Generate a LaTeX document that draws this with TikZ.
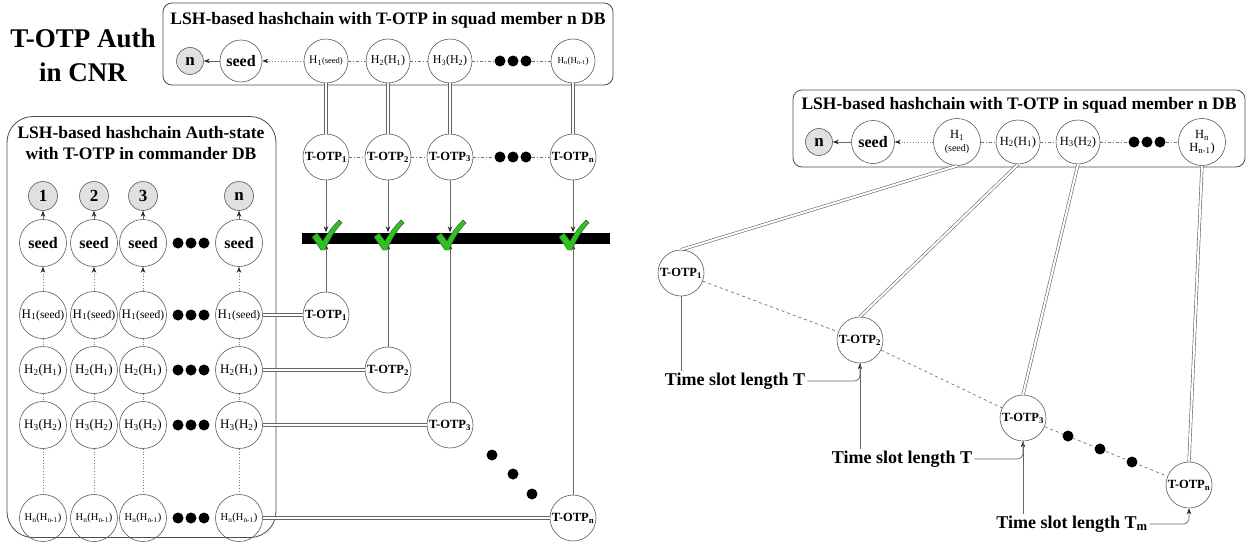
\documentclass[tikz,border=0pt]{standalone}
\usepackage{fontspec}
\setmainfont{Liberation Serif}
\usetikzlibrary{arrows.meta,positioning}

\definecolor{chkgreen}{RGB}{45,195,30}
\newcommand{\fsz}[1]{\fontsize{#1}{#1}\selectfont}

\tikzset{chk/.pic={
  \filldraw[fill=chkgreen,draw=black!75,line width=0.4pt]
    (-14,-1) -- (-9,-5) -- (-3,3) .. controls (2,-6) and (7,-12) .. (13,-18)
    -- (16,-15) .. controls (9,-8) and (3,2) .. (-1,12) -- (-5,12) -- cycle;
}}

\begin{document}
\begin{tikzpicture}[x=1pt,y=-1pt,
  circ/.style={circle,draw=black!65,line width=0.6pt,inner sep=0pt,minimum size=46,font=\fsz{13}},
  numc/.style={circle,draw=black!65,fill=black!12,line width=0.6pt,inner sep=0pt,minimum size=29,font=\bfseries\fsz{17}},
  otp/.style={circ,font=\bfseries\fsz{12.5}},
  box/.style={draw=black!70,line width=0.8pt,rounded corners=9,inner sep=0pt},
  lbl/.style={font=\bfseries\fsz{17.5}},
  tlbl/.style={font=\bfseries\fsz{18},inner sep=2pt},
  dbl/.style={draw=black!60,double=white,double distance=2pt,line width=0.6pt},
  lnk/.style={draw=black!60,line width=0.7pt},
  dotl/.style={draw=black!50,dotted,line width=0.8pt},
  dshl/.style={draw=black!55,dash pattern=on 3pt off 2pt on 1pt off 2pt,line width=0.7pt},
  rdsh/.style={draw=black!55,dash pattern=on 3pt off 3pt,line width=0.7pt},
  tip/.style={-{Stealth[length=6pt,width=4.5pt,color=black!85]}},
  gap/.style={inner sep=0pt,minimum width=38,minimum height=11}]
\useasboundingbox (0,0) rectangle (1249,546);

% title
\node[font=\bfseries\fontsize{27}{34}\selectfont,align=center] (title) at (83,55) {T-OTP Auth\\in CNR};

% squad member DB (top)
\node[box,minimum width=450,minimum height=82] (sqbox) at (388,44) {};
\node[lbl] (sqlbl) at (388,20) {LSH-based hashchain with T-OTP in squad member n DB};
\node[numc,minimum size=27] (tn) at (190,61) {n};
\node[circ,minimum size=42,font=\bfseries\fsz{16}] (tseed) at (241,61) {seed};
\node[circ,minimum size=44,font=\fsz{11.5}] (th1) at (326,61) {H\textsubscript{1}{\fsz{8.5}(seed)}};
\node[circ,minimum size=44,font=\fsz{12}] (th2) at (388,61) {H\textsubscript{2}(H\textsubscript{1})};
\node[circ,minimum size=44,font=\fsz{12}] (th3) at (450,61) {H\textsubscript{3}(H\textsubscript{2})};
\node[gap] (tdots) at (513,61) {};
\node[circ,minimum size=44,font=\fsz{9}] (thn) at (573,61) {H\textsubscript{n}(H\textsubscript{n-1})};

\draw[lnk,tip] (tseed) -- (tn);
\draw[dotl,tip] (th1) -- (tseed);
\draw[dshl] (th1) -- (th2);
\draw[dshl] (th2) -- (th3);
\draw[dshl] (th3) -- (tdots);
\draw[dshl] (tdots) -- (thn);

% T-OTP row
\node[otp] (o1) at (326,157) {T-OTP\textsubscript{1}};
\node[otp] (o2) at (388,157) {T-OTP\textsubscript{2}};
\node[otp] (o3) at (450,157) {T-OTP\textsubscript{3}};
\node[gap] (odots) at (513,157) {};
\node[otp] (on) at (573,157) {T-OTP\textsubscript{n}};

\draw[dbl] (th1) -- (o1);
\draw[dbl] (th2) -- (o2);
\draw[dbl] (th3) -- (o3);
\draw[dbl] (thn) -- (on);
\draw[dshl] (o1) -- (o2);
\draw[dshl] (o2) -- (o3);
\draw[dshl] (o3) -- (odots);
\draw[dshl] (odots) -- (on);

% check bar
\node[fill=black,inner sep=0pt,minimum width=308,minimum height=11] (bar) at (456,238) {};

% lower T-OTPs
\node[otp] (l1) at (326,315) {T-OTP\textsubscript{1}};
\node[otp] (l2) at (388,370) {T-OTP\textsubscript{2}};
\node[otp] (l3) at (450,425) {T-OTP\textsubscript{3}};
\node[otp] (ln) at (573,518) {T-OTP\textsubscript{n}};

\foreach \a/\b in {o1/l1,o2/l2,o3/l3,on/ln} {
  \draw[lnk,tip] (\a) -- (\a |- bar.north);
  \draw[lnk,tip] (\b) -- (\b |- bar.south);
}
\foreach \a in {o1,o2,o3,on}
  \pic at (\a |- bar) {chk};

\fill (492,455) circle (5.5);
\fill (513,474) circle (5.5);
\fill (532,494) circle (5.5);

% commander DB (left)
\node[box,rounded corners=26,minimum width=269,minimum height=421] (cmbox) at (141.5,327) {};
\node[font=\bfseries\fontsize{17.5}{21}\selectfont,align=center] (cmlbl) at (141,143) {LSH-based hashchain Auth-state\\with T-OTP in commander DB};

\foreach \i/\x/\t in {1/43/1,2/94/2,3/143/3,4/239/n} {
  \node[numc] (num\i) at (\x,196) {\t};
  \node[circ,minimum size=47,font=\bfseries\fsz{16}] (sd\i) at (\x,243) {seed};
  \node[circ,minimum size=47] (ha\i) at (\x,315) {H\textsubscript{1}{\fsz{11.5}(seed)}};
  \node[circ,minimum size=47] (hb\i) at (\x,370) {H\textsubscript{2}(H\textsubscript{1})};
  \node[circ,minimum size=47] (hc\i) at (\x,425) {H\textsubscript{3}(H\textsubscript{2})};
  \node[circ,minimum size=47,font=\fsz{10.5}] (hn\i) at (\x,518) {H\textsubscript{n}(H\textsubscript{n-1})};
  \draw[lnk,tip] (sd\i) -- (num\i);
  \draw[dotl,tip] (ha\i) -- (sd\i);
  \draw[dotl] (ha\i) -- (hb\i);
  \draw[dotl] (hb\i) -- (hc\i);
  \draw[dotl] (hc\i) -- (hn\i);
}
\foreach \y in {243,315,370,425,518}
  \foreach \k in {-13,0,13}
    \fill (191+\k,\y) circle (5.5);

\draw[dbl] (ha4) -- (l1);
\draw[dbl] (hb4) -- (l2);
\draw[dbl] (hc4) -- (l3);
\draw[dbl] (hn4) -- (ln);

% squad member DB (right)
\node[box,minimum width=452,minimum height=77] (rbox) at (1019,128.5) {};
\node[lbl] (rlbl) at (1019,105) {LSH-based hashchain with T-OTP in squad member n DB};
\node[numc,minimum size=27] (rn) at (819,142) {n};
\node[circ,minimum size=43,font=\bfseries\fsz{16}] (rseed) at (873,142) {seed};
\node[circ,minimum size=47,font=\fontsize{12.5}{13}\selectfont,align=center] (rh1) at (957,142) {H\textsubscript{1}\\{\fsz{10}(seed)}};
\node[circ,minimum size=44,font=\fsz{12.5}] (rh2) at (1018,142) {H\textsubscript{2}(H\textsubscript{1})};
\node[circ,minimum size=44,font=\fsz{12.5}] (rh3) at (1078,142) {H\textsubscript{3}(H\textsubscript{2})};
\node[gap] (rdots) at (1147,142) {};
\node[circ,minimum size=47,font=\fontsize{12.5}{13}\selectfont,align=center] (rhn) at (1202,142) {H\textsubscript{n}\\H\textsubscript{n-1})};

\draw[lnk,tip] (rseed) -- (rn);
\draw[dotl,tip] (rh1) -- (rseed);
\draw[dshl] (rh1) -- (rh2);
\draw[dshl] (rh2) -- (rh3);
\draw[dshl] (rh3) -- (rdots);
\draw[dshl] (rdots) -- (rhn);

\foreach \d in {tdots,odots,rdots}
  \foreach \k in {-13,0,13}
    \fill ([xshift=\k pt]\d) circle (5.5);

\node[otp] (ro1) at (681,273) {T-OTP\textsubscript{1}};
\node[otp] (ro2) at (860,340) {T-OTP\textsubscript{2}};
\node[otp] (ro3) at (1023,418) {T-OTP\textsubscript{3}};
\node[otp] (ron) at (1189,485) {T-OTP\textsubscript{n}};

\draw[dbl] (rh1.south) -- (ro1.north);
\draw[dbl] (rh2.south) -- (ro2.north);
\draw[dbl] (rh3.south) -- (ro3.north);
\draw[dbl] (rhn.south) -- (ron.north);

\draw[rdsh] (ro1) -- (ro2);
\draw[rdsh] (ro2) -- (ro3);
\draw[rdsh] (ro3) -- (ron);
\fill (1068,436) circle (5.5);
\fill (1100,449) circle (5.5);
\fill (1132,462) circle (5.5);

\node[tlbl] (ts1) at (735,381) {Time slot length T};
\node[tlbl] (ts2) at (902,459) {Time slot length T};
\node[tlbl] (ts3) at (1072,524) {Time slot length T\textsubscript{m}};

\draw[lnk] (ro1) -- (ro1 |- ts1.north);
\draw[lnk,tip,rounded corners=6] (ts1.east) -| (ro2.south);
\draw[lnk] (ro2) -- (ro2 |- ts2.north);
\draw[lnk,tip,rounded corners=6] (ts2.east) -| (ro3.south);
\draw[lnk] (ro3) -- (ro3 |- ts3.north);
\draw[lnk,tip,rounded corners=6] (ts3.east) -| (ron.south);
\end{tikzpicture}
\end{document}
